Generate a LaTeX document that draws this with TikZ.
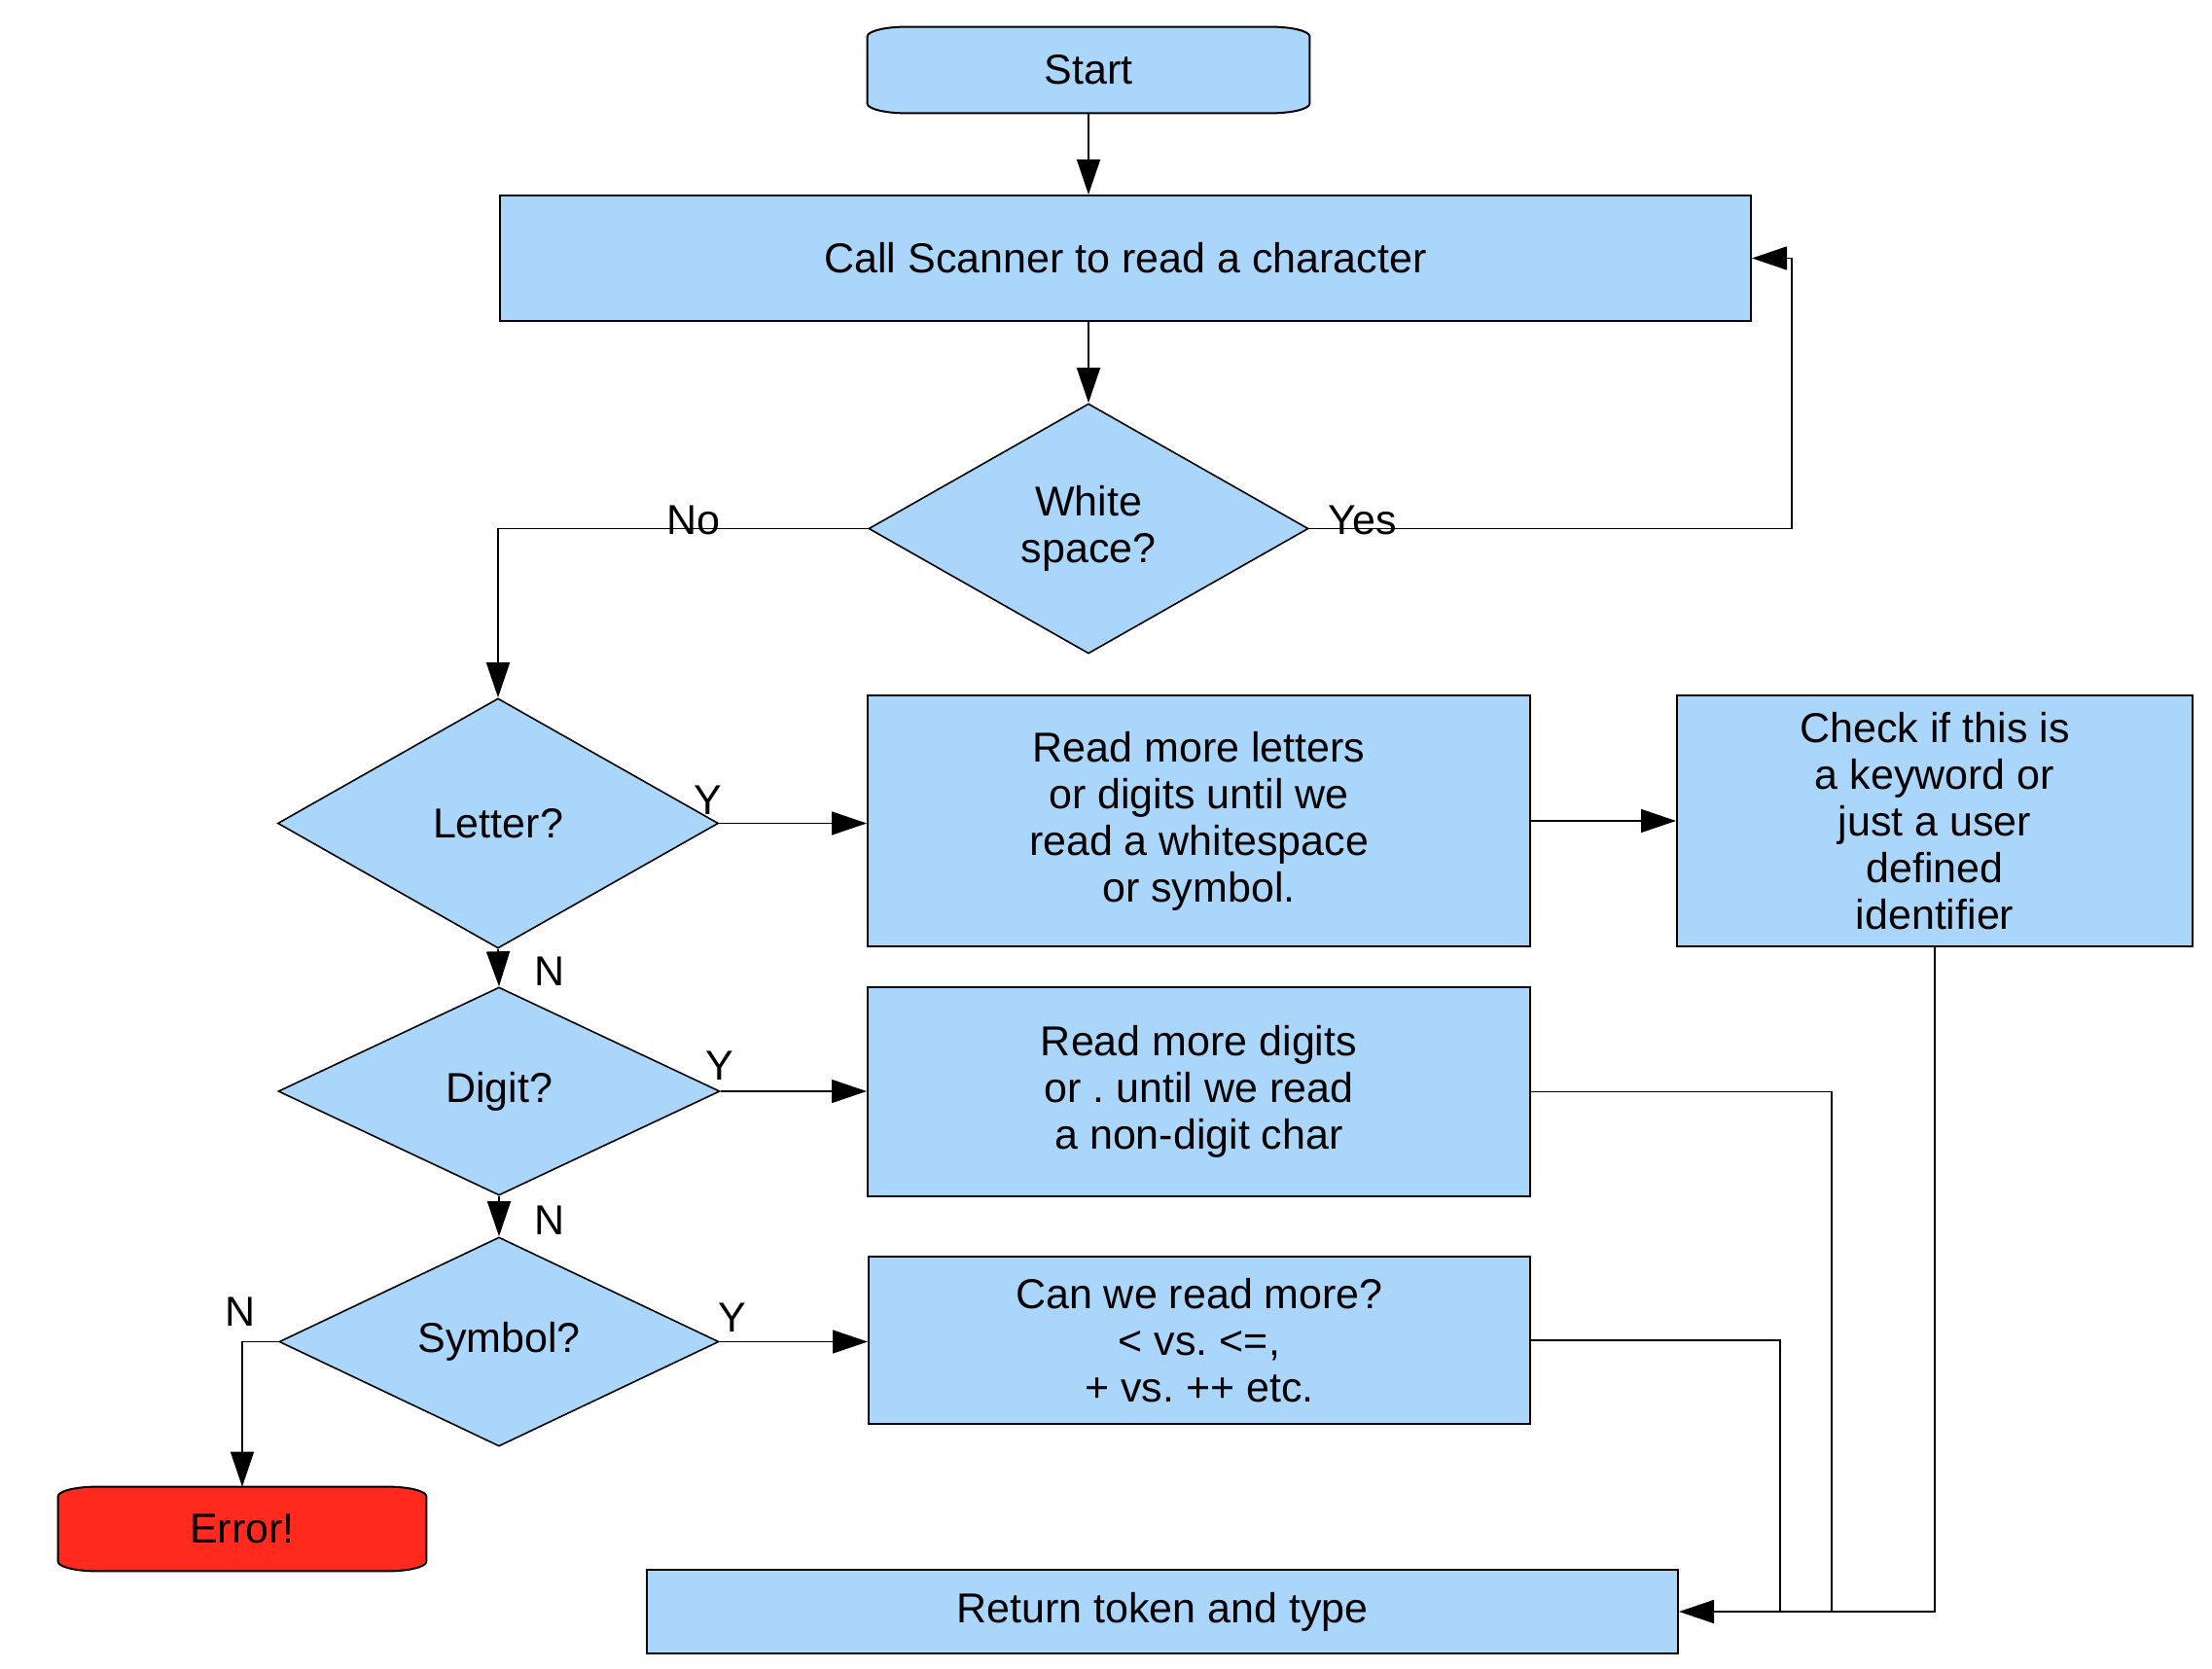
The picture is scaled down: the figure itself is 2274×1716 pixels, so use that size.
\documentclass[tikz,border=0pt]{standalone}
\usepackage{fontspec}
\setmainfont{Liberation Sans}
\frenchspacing
\usetikzlibrary{shapes.geometric,arrows.meta,calc}
\pgfdeclarelayer{bg}
\pgfsetlayers{bg,main}
\definecolor{boxblue}{RGB}{170,214,252}
\definecolor{errred}{RGB}{255,42,30}
\newcommand\drawterm[2]{%
  \begin{pgfonlayer}{bg}
  \draw[line width=1pt, fill=#2]
    ([yshift=-5pt]#1.north west) arc[start angle=180,end angle=90,x radius=20pt,y radius=5pt]
    -- ([xshift=-20pt]#1.north east) arc[start angle=90,end angle=0,x radius=20pt,y radius=5pt]
    -- ([yshift=5pt]#1.south east) arc[start angle=0,end angle=-90,x radius=20pt,y radius=5pt]
    -- ([xshift=20pt]#1.south west) arc[start angle=270,end angle=180,x radius=20pt,y radius=5pt]
    -- cycle;
  \end{pgfonlayer}}
\begin{document}
\begin{tikzpicture}[x=0.5pt,y=0.5pt,
  every node/.style={font=\fontsize{21.5pt}{24pt}\selectfont},
  procbox/.style={rectangle, draw, line width=1pt, fill=boxblue, align=center, inner sep=0pt},
  decbox/.style={diamond, draw, line width=0.8pt, fill=boxblue, align=center, inner sep=0pt},
  termbox/.style={rectangle, draw=none, align=center, inner sep=0pt},
  lbl/.style={anchor=base, inner sep=0pt},
  conn/.style={line width=0.8pt},
  arr/.style={line width=0.8pt, -{Triangle[length=18pt,width=12pt]}}]
\useasboundingbox (0,0) rectangle (2274,-1716);

% nodes
\node[termbox, minimum width=227pt, minimum height=44pt] (start) at (1119,-72) {Start};
\drawterm{start}{boxblue}
\node[procbox, minimum width=643pt, minimum height=64.5pt] (call) at (1157,-265.5) {Call Scanner to read a character};
\node[decbox, minimum width=226pt, minimum height=128.5pt] (ws) at (1119,-543.5) {White\\space?};
\node[decbox, minimum width=226.5pt, minimum height=128.5pt] (letter) at (512,-846.5) {Letter?};
\node[procbox, minimum width=340.5pt, minimum height=129pt] (lettersbox) at (1232.5,-844) {Read more letters\\or digits until we\\read a whitespace\\or symbol.};
\node[procbox, minimum width=265pt, minimum height=129pt] (check) at (1989,-844) {Check if this is\\a keyword or\\just a user\\defined\\identifier};
\node[decbox, minimum width=227pt, minimum height=107pt] (digit) at (513,-1122) {Digit?};
\node[procbox, minimum width=340.5pt, minimum height=107.5pt] (digitsbox) at (1232.5,-1122.5) {Read more digits\\or . until we read\\a non-digit char};
\node[decbox, minimum width=226pt, minimum height=107.5pt] (symbol) at (513,-1379.5) {Symbol?};
\node[procbox, minimum width=340pt, minimum height=86pt] (canbox) at (1233,-1378) {Can we read more?\\< vs. <=,\\+ vs. ++ etc.};
\node[termbox, minimum width=189pt, minimum height=43pt] (error) at (249,-1572) {Error!};
\drawterm{error}{errred}
\node[procbox, minimum width=530pt, minimum height=43pt] (ret) at (1195,-1657) {Return token and type};

% helper coordinates
\coordinate (yl) at (1842,-543.5);
\coordinate (j1) at (1830,-1657);
\coordinate (j2) at (1883,-1657);

% connectors
\draw[arr] (start.south) -- (start.south |- call.north);
\draw[arr] (ws.north |- call.south) -- (ws.north);
\draw[arr] (ws.east) -- (yl) |- (call.east);
\draw[arr] (ws.west) -| (letter.north);
\draw[arr] (letter.east) -- (letter.east -| lettersbox.west);
\draw[arr] (lettersbox.east) -- (check.west);
\draw[arr] (check.south) |- (ret.east);
\draw[arr] (letter.south) -- (digit.north);
\draw[arr] (digit.east) -- (digit.east -| digitsbox.west);
\draw[conn] (digitsbox.east) -| (j2);
\draw[arr] (digit.south) -- (symbol.north);
\draw[arr] (symbol.east) -- (symbol.east -| canbox.west);
\draw[conn] (canbox.east) -| (j1);
\draw[arr] (symbol.west) -| (error.north);

% labels
\node[lbl] (lno) at (713,-550) {No};
\node[lbl] (lyes) at (1401,-550) {Yes};
\node[lbl] (ly1) at (728,-837) {Y};
\node[lbl] (ln1) at (565,-1013) {N};
\node[lbl] (ly2) at (740,-1110) {Y};
\node[lbl] (ln2) at (565,-1269) {N};
\node[lbl] (ly3) at (753,-1369) {Y};
\node[lbl] (ln3) at (247,-1363) {N};
\end{tikzpicture}
\end{document}
